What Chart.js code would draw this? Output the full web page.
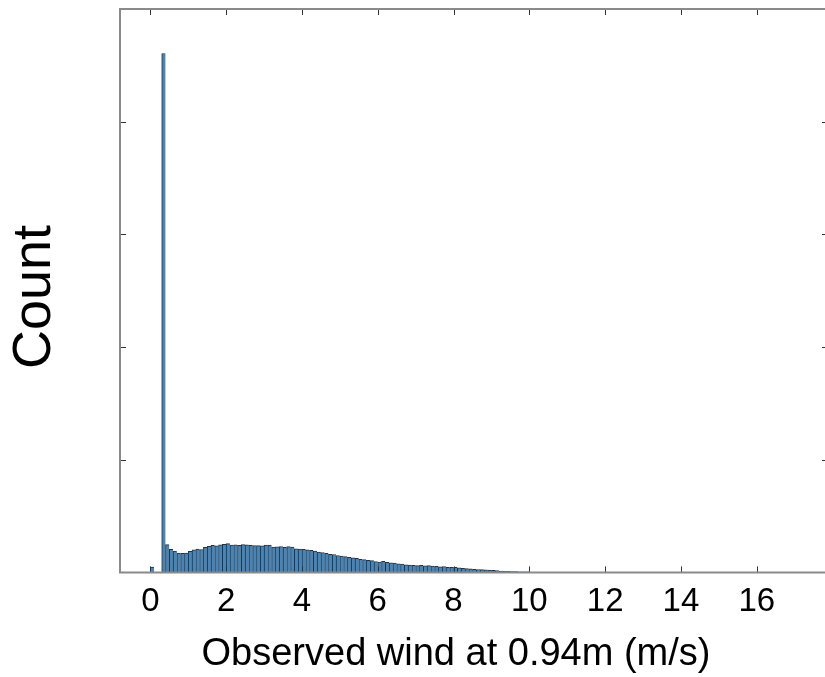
<!DOCTYPE html>
<html>
<head>
<meta charset="utf-8">
<style>
  html, body { margin: 0; padding: 0; background: #ffffff; }
  #wrap { width: 825px; height: 677px; }
</style>
<script src="https://cdn.jsdelivr.net/npm/chart.js@4.4.1/dist/chart.umd.min.js"></script>
</head>
<body>
<div id="wrap"><canvas id="c" width="825" height="677"></canvas></div>
<script>
// Histogram bin centres (m/s), bin width 0.1
const binCenters = [
  0.05, 0.15, 0.25, 0.35, 0.45, 0.55, 0.65, 0.75, 0.85, 0.95,
  1.05, 1.15, 1.25, 1.35, 1.45, 1.55, 1.65, 1.75, 1.85, 1.95,
  2.05, 2.15, 2.25, 2.35, 2.45, 2.55, 2.65, 2.75, 2.85, 2.95,
  3.05, 3.15, 3.25, 3.35, 3.45, 3.55, 3.65, 3.75, 3.85, 3.95,
  4.05, 4.15, 4.25, 4.35, 4.45, 4.55, 4.65, 4.75, 4.85, 4.95,
  5.05, 5.15, 5.25, 5.35, 5.45, 5.55, 5.65, 5.75, 5.85, 5.95,
  6.05, 6.15, 6.25, 6.35, 6.45, 6.55, 6.65, 6.75, 6.85, 6.95,
  7.05, 7.15, 7.25, 7.35, 7.45, 7.55, 7.65, 7.75, 7.85, 7.95,
  8.05, 8.15, 8.25, 8.35, 8.45, 8.55, 8.65, 8.75, 8.85, 8.95,
  9.05, 9.15, 9.25, 9.35, 9.45, 9.55, 9.65, 9.75, 9.85, 9.95
];
// Counts (in units of the unlabeled y tick spacing)
const counts = [
  0.047, 0.000, 0.000, 4.605, 0.246, 0.204, 0.189, 0.172, 0.170, 0.172,
  0.186, 0.200, 0.208, 0.203, 0.222, 0.232, 0.240, 0.236, 0.244, 0.250,
  0.255, 0.243, 0.245, 0.241, 0.246, 0.244, 0.241, 0.237, 0.238, 0.236,
  0.242, 0.243, 0.224, 0.228, 0.230, 0.222, 0.229, 0.224, 0.210, 0.206,
  0.205, 0.201, 0.195, 0.190, 0.180, 0.177, 0.170, 0.161, 0.159, 0.150,
  0.145, 0.140, 0.133, 0.130, 0.124, 0.117, 0.113, 0.108, 0.105, 0.097,
  0.091, 0.098, 0.090, 0.086, 0.082, 0.077, 0.073, 0.068, 0.066, 0.063,
  0.060, 0.062, 0.058, 0.060, 0.055, 0.053, 0.050, 0.052, 0.046, 0.044,
  0.046, 0.040, 0.036, 0.034, 0.031, 0.028, 0.026, 0.024, 0.023, 0.021,
  0.019, 0.017, 0.012, 0.010, 0.009, 0.008, 0.007, 0.006, 0.005, 0.004
];
const xTickValues = [0, 2, 4, 6, 8, 10, 12, 14, 16];
const yTickValues = [1, 2, 3, 4];
const xTitle = 'Observed wind at 0.94m (m/s)';
const yTitle = 'Count';

const FONT = "'Liberation Sans', Arial, Helvetica, sans-serif";

const framePlugin = {
  id: 'frame',
  afterDatasetsDraw(chart) {
    const { ctx, chartArea: a, scales } = chart;
    const xs = scales.x, ys = scales.y;
    ctx.save();
    ctx.strokeStyle = '#333333';
    ctx.lineWidth = 1;
    const tl = 6;
    ctx.beginPath();
    xTickValues.forEach(v => {
      const px = Math.round(xs.getPixelForValue(v)) + 0.5;
      ctx.moveTo(px, a.top); ctx.lineTo(px, a.top + tl);
      ctx.moveTo(px, a.bottom); ctx.lineTo(px, a.bottom - tl);
    });
    yTickValues.forEach(v => {
      const py = Math.round(ys.getPixelForValue(v)) + 0.5;
      ctx.moveTo(a.left, py); ctx.lineTo(a.left + tl, py);
      ctx.moveTo(a.right, py); ctx.lineTo(a.right - tl + 3, py);
    });
    ctx.stroke();
    ctx.strokeStyle = '#8a8a8a';
    ctx.lineWidth = 2;
    ctx.beginPath();
    ctx.moveTo(a.right + 2, a.top);
    ctx.lineTo(a.left, a.top);
    ctx.lineTo(a.left, a.bottom);
    ctx.lineTo(a.right + 2, a.bottom);
    ctx.stroke();

    // axis titles
    ctx.fillStyle = '#000000';
    ctx.textAlign = 'center';
    ctx.textBaseline = 'middle';
    ctx.font = '38px ' + FONT;
    ctx.fillText(xTitle, 456, 655);
    ctx.translate(35, 297);
    ctx.rotate(-Math.PI / 2);
    ctx.font = '54px ' + FONT;
    ctx.fillText(yTitle, 0, 0);
    ctx.restore();
  }
};

new Chart(document.getElementById('c'), {
  type: 'bar',
  data: {
    datasets: [{
      data: binCenters.map((x, i) => ({ x: x, y: counts[i] })),
      backgroundColor: '#4785b9',
      borderColor: '#25323d',
      borderWidth: { top: 1, left: 1, right: 0, bottom: 0 },
      borderSkipped: false,
      barPercentage: 1.0,
      categoryPercentage: 1.0
    }]
  },
  options: {
    responsive: false,
    animation: false,
    devicePixelRatio: 1,
    layout: { padding: { top: 9, right: 0, bottom: 45, left: 120 } },
    plugins: { legend: { display: false }, tooltip: { enabled: false } },
    scales: {
      x: {
        type: 'linear',
        offset: false,
        min: -0.8,
        max: 17.8,
        grid: { display: false, drawTicks: false, offset: false },
        border: { display: false },
        afterBuildTicks: s => { s.ticks = xTickValues.map(v => ({ value: v })); },
        ticks: {
          padding: 10,
          color: '#000000',
          maxRotation: 0,
          autoSkip: false,
          font: { family: FONT, size: 33 }
        },
        title: { display: false }
      },
      y: {
        min: 0,
        max: 5,
        grid: { display: false, drawTicks: false },
        border: { display: false },
        afterBuildTicks: s => { s.ticks = yTickValues.map(v => ({ value: v })); },
        ticks: { display: false },
        title: { display: false }
      }
    }
  },
  plugins: [framePlugin]
});
</script>
</body>
</html>
